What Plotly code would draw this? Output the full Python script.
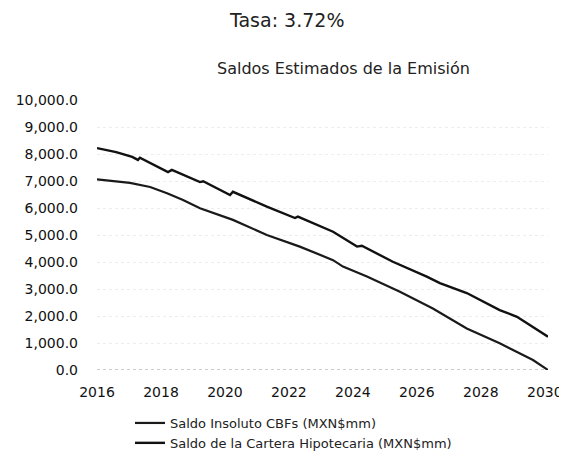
import plotly.graph_objects as go

# Series (year as decimal, value in MXN$ mm)
cbf_years = [2016.0, 2017.03, 2017.66, 2018.19, 2018.69, 2019.22, 2020.25, 2021.31,
             2022.34, 2023.38, 2023.69, 2024.44, 2025.47, 2026.5, 2027.56, 2028.59,
             2029.63, 2030.1]
cbf_values = [7060, 6930, 6780, 6550, 6300, 5990, 5560, 5000,
              4570, 4070, 3830, 3460, 2900, 2280, 1540, 990,
              370, 0]

cartera_years = [2016.0, 2016.6, 2017.1, 2017.28, 2017.34, 2018.22, 2018.34, 2019.22,
                 2019.32, 2020.16, 2020.25, 2021.31, 2022.19, 2022.28, 2023.38, 2024.13,
                 2024.28, 2025.25, 2026.31, 2026.72, 2027.56, 2028.59, 2029.13, 2029.63,
                 2030.1]
cartera_values = [8220, 8070, 7890, 7780, 7860, 7330, 7410, 6960,
                  6990, 6480, 6600, 6050, 5630, 5680, 5120, 4570,
                  4600, 4010, 3460, 3220, 2850, 2220, 1970, 1600,
                  1230]

series_names = ["Saldo Insoluto CBFs (MXN$mm)", "Saldo de la Cartera Hipotecaria (MXN$mm)"]
x_ticks = [2016, 2018, 2020, 2022, 2024, 2026, 2028, 2030]
y_ticks = [0, 1000, 2000, 3000, 4000, 5000, 6000, 7000, 8000, 9000, 10000]

FONT = "DejaVu Sans"
# page body has an 8px default margin, so the figure is 8px smaller than the window
FIG_W, FIG_H = 559, 449
M_L, M_R, M_T, M_B = 89, 19, 92, 87
PLOT_H = FIG_H - M_T - M_B
PLOT_W = FIG_W - M_L - M_R

fig = go.Figure()
fig.add_trace(go.Scatter(x=cbf_years, y=cbf_values, mode="lines", name=series_names[0],
                         line=dict(color="#1a1a1a", width=2.2)))
fig.add_trace(go.Scatter(x=cartera_years, y=cartera_values, mode="lines", name=series_names[1],
                         line=dict(color="#111111", width=2.4)))

# dotted baseline at zero
fig.add_shape(type="line", xref="paper", x0=0, x1=1, yref="y", y0=0, y1=0,
              line=dict(color="#9a9a9a", width=1, dash="dot"), layer="below")

fig.update_layout(
    width=FIG_W, height=FIG_H,
    margin=dict(l=M_L, r=M_R, t=M_T, b=M_B, autoexpand=False),
    paper_bgcolor="white", plot_bgcolor="white",
    font=dict(family=FONT, color="#111111"),
    showlegend=True,
    legend=dict(orientation="v", x=(122 - M_L) / PLOT_W, xanchor="left",
                y=-(400 - (FIG_H - M_B)) / PLOT_H, yanchor="top",
                font=dict(family=FONT, size=13, color="#222222"),
                bgcolor="rgba(0,0,0,0)", tracegroupgap=0, itemwidth=30),
    annotations=[
        dict(text="Tasa: 3.72%", xref="paper", yref="paper", x=(278 - M_L) / PLOT_W,
             y=1 + (M_T - 12) / PLOT_H, xanchor="center", yanchor="middle", showarrow=False,
             font=dict(family=FONT, size=19, color="#222222")),
        dict(text="Saldos Estimados de la Emisión", xref="paper", yref="paper",
             x=(335 - M_L) / PLOT_W, y=1 + (M_T - 60) / PLOT_H, xanchor="center",
             yanchor="middle", showarrow=False,
             font=dict(family=FONT, size=16, color="#222222")),
    ],
)

fig.update_xaxes(range=[2016, 2030.1], tickvals=x_ticks, ticktext=[str(t) for t in x_ticks],
                 showgrid=False, zeroline=False, showline=False, ticks="",
                 tickfont=dict(family=FONT, size=14, color="#111111"), ticklabelstandoff=12)
fig.update_yaxes(range=[0, 10000], tickvals=y_ticks,
                 ticktext=[f"{v:,.1f}" for v in y_ticks],
                 showgrid=True, gridcolor="#ededed", griddash="dot", gridwidth=1,
                 zeroline=False, showline=False, ticks="",
                 tickfont=dict(family=FONT, size=14, color="#111111"), ticklabelstandoff=18)

fig.write_html("out.html")
